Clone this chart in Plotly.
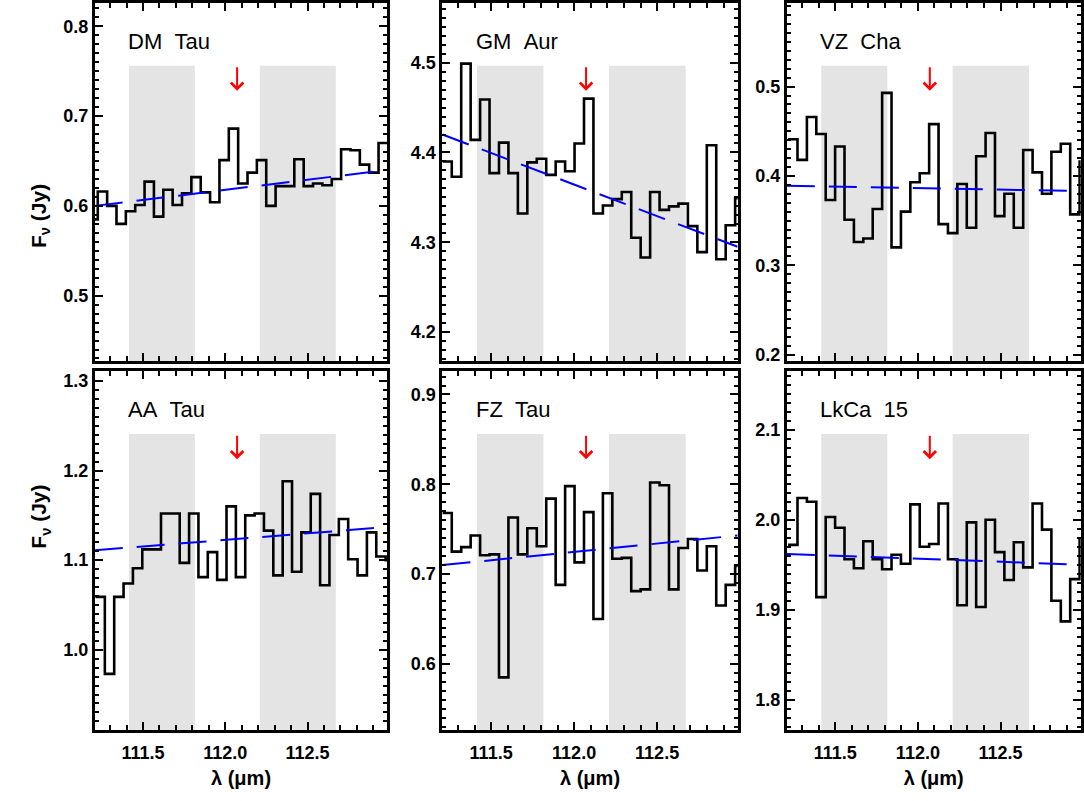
import plotly.graph_objects as go

# ---------------- data ----------------
names = ["DM\u00a0\u00a0Tau", "GM\u00a0\u00a0Aur", "VZ\u00a0\u00a0Cha",
         "AA\u00a0\u00a0Tau", "FZ\u00a0\u00a0Tau", "LkCa\u00a0\u00a015"]

BIN_WIDTH = 0.0569                     # micron, spectral bin size
lam_start = [111.168, 111.206, 111.2145, 111.211, 111.206, 111.2145]   # left edge of first bin

flux_dm_tau = [0.585, 0.616, 0.600, 0.580, 0.594, 0.601, 0.627, 0.588, 0.618, 0.601,
               0.614, 0.632, 0.615, 0.604, 0.651, 0.686, 0.625, 0.637, 0.651, 0.600,
               0.622, 0.622, 0.652, 0.622, 0.625, 0.623, 0.630, 0.663, 0.662, 0.646,
               0.637, 0.670]
flux_gm_aur = [4.390, 4.373, 4.499, 4.414, 4.459, 4.377, 4.411, 4.377, 4.332, 4.389,
               4.393, 4.375, 4.390, 4.379, 4.410, 4.460, 4.332, 4.341, 4.348, 4.356,
               4.305, 4.283, 4.356, 4.336, 4.340, 4.343, 4.318, 4.289, 4.408, 4.281,
               4.319, 4.349]
flux_vz_cha = [0.441, 0.418, 0.466, 0.447, 0.373, 0.433, 0.351, 0.326, 0.330, 0.363,
               0.493, 0.320, 0.360, 0.393, 0.403, 0.458, 0.346, 0.336, 0.391, 0.342,
               0.422, 0.448, 0.355, 0.380, 0.342, 0.429, 0.404, 0.380, 0.427, 0.436,
               0.357, 0.416]
flux_aa_tau = [1.059, 0.973, 1.059, 1.074, 1.091, 1.112, 1.112, 1.152, 1.152, 1.097,
               1.152, 1.081, 1.109, 1.078, 1.160, 1.081, 1.150, 1.152, 1.133, 1.083,
               1.188, 1.087, 1.131, 1.174, 1.072, 1.128, 1.146, 1.101, 1.083, 1.131,
               1.104, 1.100]
flux_fz_tau = [0.768, 0.725, 0.730, 0.743, 0.721, 0.722, 0.585, 0.763, 0.722, 0.751,
               0.731, 0.784, 0.688, 0.798, 0.713, 0.769, 0.650, 0.790, 0.717, 0.718,
               0.681, 0.683, 0.802, 0.799, 0.683, 0.729, 0.739, 0.704, 0.731, 0.665,
               0.688, 0.709]
flux_lkca15 = [1.972, 2.024, 2.020, 1.914, 2.003, 1.991, 1.956, 1.946, 1.976, 1.956,
               1.945, 1.961, 1.951, 2.017, 1.970, 1.973, 2.018, 1.956, 1.905, 1.997,
               1.903, 2.000, 1.964, 1.933, 1.975, 1.947, 2.018, 1.989, 1.910, 1.887,
               1.934, 1.979]
fluxes = [flux_dm_tau, flux_gm_aur, flux_vz_cha, flux_aa_tau, flux_fz_tau, flux_lkca15]

# continuum fit (value at left / right end of the wavelength window)
cont_lam = [111.207, 112.985]
cont_left = [0.600, 4.420, 0.389, 1.111, 0.710, 1.962]
cont_right = [0.640, 4.295, 0.383, 1.137, 0.743, 1.950]

HD_LINE = 112.072                      # HD J=1-0 line position (micron)
bands = [(111.415, 111.815), (112.21, 112.672)]   # continuum windows

# ---------------- layout config ----------------
X_RANGE = [111.207, 112.985]
y_ranges = [[0.427, 0.826], [4.1675, 4.5665], [0.1926, 0.5936],
            [0.910, 1.311], [0.526, 0.926], [1.766, 2.165]]
W, H = 1084, 801
col_px = [(95, 388), (443.3, 739), (788.3, 1082.7)]
row_px = [(3, 363), (373, 734)]
FONT = "Liberation Sans, Arial, sans-serif"

fig = go.Figure()
tickfont = dict(family=FONT, size=18, color="black", weight="bold")

for k in range(6):
    r, c = divmod(k, 3)
    ax = "" if k == 0 else str(k + 1)
    xa, ya = "x" + ax, "y" + ax
    edges = [lam_start[k] + i * BIN_WIDTH for i in range(len(fluxes[k]) + 1)]
    yvals = list(fluxes[k]) + [fluxes[k][-1]]
    fig.add_trace(go.Scatter(x=edges, y=yvals, mode="lines", line_shape="hv",
                             line=dict(color="black", width=2.6), xaxis=xa, yaxis=ya,
                             showlegend=False, hoverinfo="skip"))
    fig.add_trace(go.Scatter(x=cont_lam, y=[cont_left[k], cont_right[k]], mode="lines",
                             line=dict(color="#0000ff", width=2, dash="28px,14px"),
                             xaxis=xa, yaxis=ya, showlegend=False, hoverinfo="skip"))
    x0, x1 = col_px[c]
    y0, y1 = row_px[r]
    common = dict(showline=True, linecolor="black", linewidth=3, mirror="allticks",
                  ticks="inside", ticklen=8, tickwidth=2, tickcolor="black",
                  showgrid=False, zeroline=False)
    fig.layout["xaxis" + ax] = dict(
        domain=[x0 / W, x1 / W], anchor=ya, range=X_RANGE,
        tick0=111.5, dtick=0.5, tickformat=".1f", showticklabels=(r == 1),
        tickfont=tickfont, ticklabelstandoff=4,
        minor=dict(dtick=0.1, ticklen=5, tickwidth=2, tickcolor="black", ticks="inside"),
        title=dict(text="<b>λ (μm)</b>" if r == 1 else "",
                   font=dict(family=FONT, size=20, color="black"),
                   standoff=10),
        **common)
    fig.layout["yaxis" + ax] = dict(
        domain=[1 - y1 / H, 1 - y0 / H], anchor=xa, range=y_ranges[k],
        dtick=0.1, tickformat=".1f", tickfont=tickfont,
        minor=dict(dtick=0.01, ticklen=4, tickwidth=2, tickcolor="black", ticks="inside"),
        **common)
    for b0, b1 in bands:
        fig.add_shape(type="rect", xref=xa, yref=ya + " domain", x0=b0, x1=b1, y0=0, y1=0.825,
                      fillcolor="#e4e4e4", line=dict(width=0), layer="below")
    fig.add_annotation(x=HD_LINE, y=0.755, xref=xa, yref=ya + " domain", text="",
                       showarrow=True, ax=0, ay=-25, arrowhead=4, arrowsize=1.2,
                       arrowwidth=2, arrowcolor="red")
    fig.add_annotation(x=0.107, y=0.893, xref=xa + " domain", yref=ya + " domain",
                       text=names[k], showarrow=False, xanchor="left", yanchor="middle",
                       font=dict(family=FONT, size=22, color="black"))

for r in range(2):
    y0, y1 = row_px[r]
    fig.add_annotation(x=25 / W, y=1 - (y0 + y1) / 2 / H, xref="paper", yref="paper",
                       text="<b>F<sub>ν</sub> (Jy)</b>", textangle=-90, showarrow=False,
                       font=dict(family=FONT, size=21, color="black"))

fig.update_layout(width=W, height=H, margin=dict(l=0, r=0, t=0, b=0),
                  paper_bgcolor="white", plot_bgcolor="white", autosize=False)
fig.write_html("out.html")
